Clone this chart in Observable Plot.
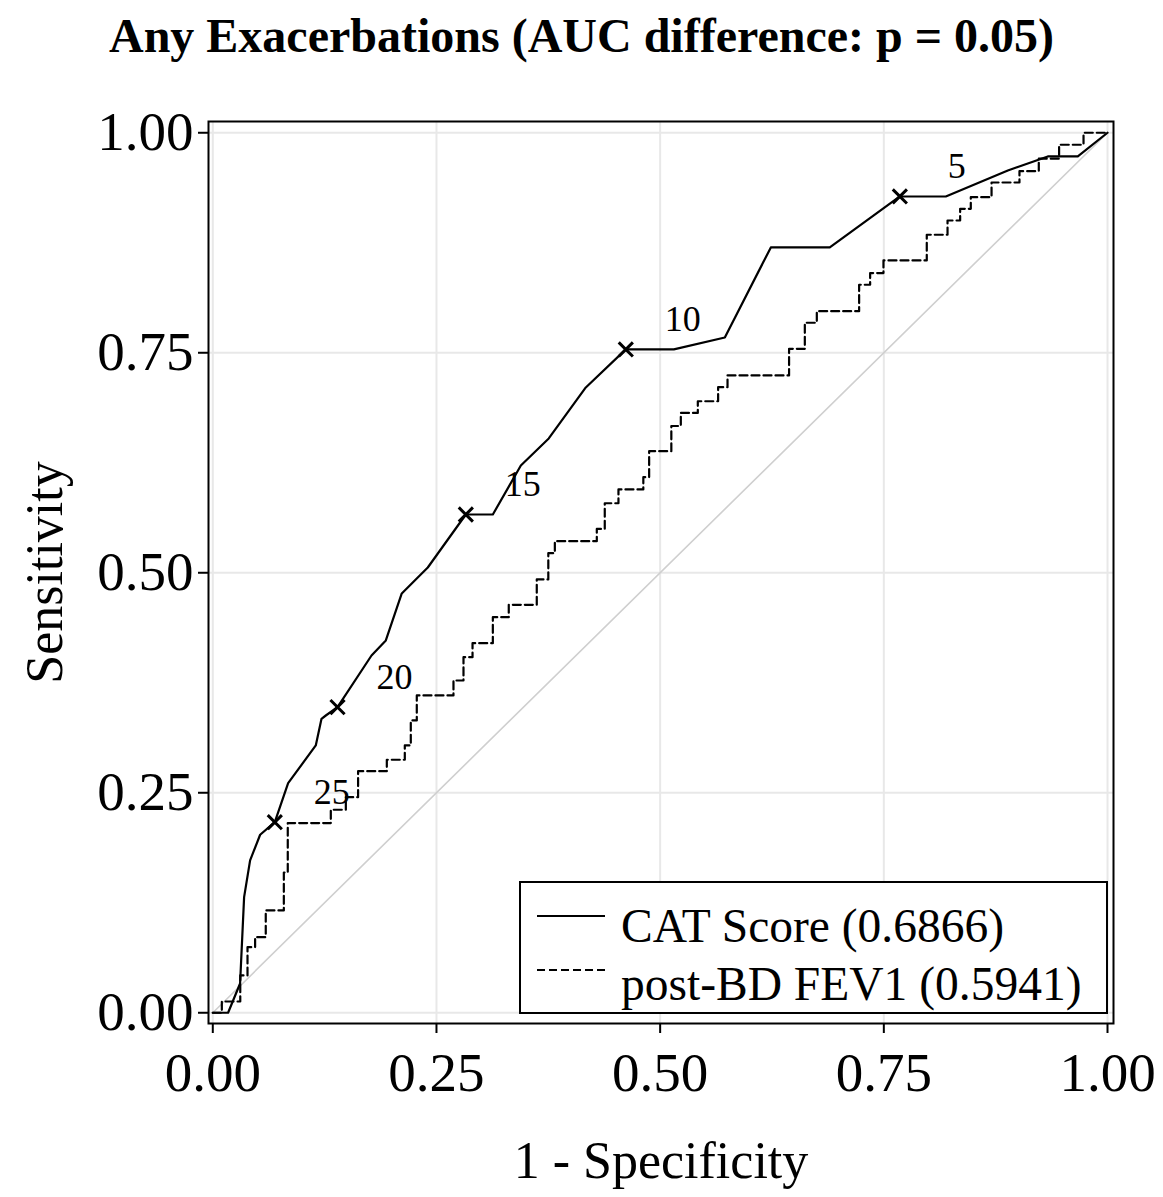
<!DOCTYPE html>
<html>
<head>
<meta charset="utf-8">
<script src="https://cdn.jsdelivr.net/npm/d3@7"></script>
<script src="https://cdn.jsdelivr.net/npm/@observablehq/plot@0.6"></script>
<style>
  html, body { margin: 0; padding: 0; background: #fff; }
  #wrap { position: relative; width: 1163px; height: 1197px; font-family: "Liberation Serif", "Times New Roman", serif; }
  #title { position: absolute; left: 0; top: 6px; width: 1163px; text-align: center;
           font-weight: bold; font-size: 48px; line-height: 60px; color: #000; }
  #chart { position: absolute; left: 0; top: 80px; }
  #legend { position: absolute; left: 519px; top: 881px; }
</style>
</head>
<body>
<div id="wrap">
  <div id="title">Any Exacerbations (AUC difference: p = 0.05)</div>
  <div id="chart"></div>
  <svg id="legend" width="592" height="136"></svg>
</div>
<script>
// ROC curve for CAT Score: (1 - specificity, sensitivity) vertices
const catFpr = [0, 0.0171, 0.0305, 0.0350, 0.0417, 0.0529, 0.0693, 0.0842, 0.1151, 0.1215, 0.1263,
  0.1394, 0.1774, 0.1934, 0.2112, 0.2403, 0.2828, 0.3130, 0.3443, 0.3755, 0.4169, 0.4616, 0.5153,
  0.5723, 0.6237, 0.6896, 0.7679, 0.8193, 0.8886, 0.9333, 0.9668, 1];
const catTpr = [0, 0, 0.0333, 0.1314, 0.1731, 0.2023, 0.2166, 0.2609, 0.3038, 0.3341, 0.3378,
  0.3473, 0.4060, 0.4231, 0.4765, 0.5060, 0.5662, 0.5662, 0.6219, 0.6526, 0.7106, 0.7538, 0.7538,
  0.7674, 0.8697, 0.8697, 0.9276, 0.9276, 0.9572, 0.9731, 0.9731, 1];

// ROC curve for post-BD FEV1 (empirical step curve)
const fevFpr = [0, 0.0101, 0.0307, 0.0388, 0.0473, 0.0592, 0.0794, 0.0838, 0.1319, 0.1487, 0.1624,
  0.1945, 0.2146, 0.2213, 0.2280, 0.2690, 0.2802, 0.2903, 0.3130, 0.3308, 0.3621, 0.3750, 0.3823,
  0.4292, 0.4381, 0.4534, 0.4812, 0.4877, 0.5125, 0.5231, 0.5421, 0.5648, 0.5753, 0.6441, 0.6617,
  0.6751, 0.7224, 0.7347, 0.7496, 0.7980, 0.8212, 0.8353, 0.8472, 0.8704, 0.9016, 0.9232, 0.9459,
  0.9732, 1];
const fevTpr = [0, 0.0128, 0.0424, 0.0745, 0.0859, 0.1163, 0.1594, 0.2155, 0.2307, 0.2450, 0.2745,
  0.2875, 0.3038, 0.3322, 0.3606, 0.3776, 0.4041, 0.4200, 0.4495, 0.4636, 0.4924, 0.5223, 0.5359,
  0.5498, 0.5790, 0.5947, 0.6086, 0.6382, 0.6668, 0.6816, 0.6949, 0.7109, 0.7242, 0.7545, 0.7841,
  0.7973, 0.8273, 0.8405, 0.8549, 0.8841, 0.9003, 0.9136, 0.9268, 0.9435, 0.9564, 0.9705, 0.9864,
  1, 1];

// CAT score cut-offs marked along the curve
const cutLabels = ["25", "20", "15", "10", "5"];
const cutFpr = [0.0693, 0.1394, 0.2828, 0.4616, 0.7679];
const cutTpr = [0.2166, 0.3473, 0.5662, 0.7538, 0.9276];

const tickValues = [0, 0.25, 0.5, 0.75, 1];

const legendLabels = ["CAT Score (0.6866)", "post-BD FEV1 (0.5941)"];

const cat = catFpr.map((x, i) => ({x, y: catTpr[i]}));
const fev = fevFpr.map((x, i) => ({x, y: fevTpr[i]}));
const cuts = cutLabels.map((label, i) => ({label, x: cutFpr[i], y: cutTpr[i]}));
const diag = [{x: 0, y: 0}, {x: 1, y: 1}];

const fmt = d3.format(".2f");
const font = "'Liberation Serif', 'Times New Roman', serif";

const chart = Plot.plot({
  width: 1163,
  height: 1117,
  marginLeft: 208,
  marginRight: 50,
  marginTop: 41,
  marginBottom: 174,
  x: {domain: [-0.0048, 1.0067]},
  y: {domain: [-0.0122, 1.0128]},
  style: {fontFamily: font, background: "white", color: "black", overflow: "visible"},
  marks: [
    Plot.gridX(tickValues, {stroke: "#e8e8e8", strokeOpacity: 1, strokeWidth: 2}),
    Plot.gridY(tickValues, {stroke: "#e8e8e8", strokeOpacity: 1, strokeWidth: 2}),
    Plot.line(diag, {x: "x", y: "y", stroke: "#cfcfcf", strokeWidth: 1.6}),
    Plot.line(fev, {x: "x", y: "y", curve: "step-after", stroke: "black", strokeWidth: 2.2, strokeDasharray: "8,4"}),
    Plot.line(cat, {x: "x", y: "y", stroke: "black", strokeWidth: 2.2}),
    Plot.dot(cuts, {x: "x", y: "y", symbol: "times", r: 6.5, stroke: "black", strokeWidth: 3}),
    Plot.text(cuts, {x: "x", y: "y", text: "label", dx: 57, dy: -30, fontSize: 36, fill: "black"}),
    Plot.axisX(tickValues, {anchor: "bottom", tickSize: 10, tickPadding: 18, fontSize: 55, tickFormat: fmt, label: null, strokeWidth: 2}),
    Plot.axisY(tickValues, {anchor: "left", tickSize: 10, tickPadding: 5, fontSize: 55, tickFormat: fmt, label: null, strokeWidth: 2}),
    Plot.frame({stroke: "black", strokeWidth: 2}),
    Plot.text(["1 - Specificity"], {frameAnchor: "bottom", dy: 154, fontSize: 52, fill: "black"}),
    Plot.text(["Sensitivity"], {frameAnchor: "left", textAnchor: "middle", dx: -163, rotate: -90, fontSize: 52, fill: "black"})
  ]
});
document.getElementById("chart").appendChild(chart);

// Legend box with line-style samples
const leg = d3.select("#legend");
leg.append("rect").attr("x", 1).attr("y", 1).attr("width", 587).attr("height", 131)
  .attr("fill", "white").attr("stroke", "black").attr("stroke-width", 2);
const rows = [
  {label: legendLabels[0], lineY: 35, textY: 61, dash: null},
  {label: legendLabels[1], lineY: 89, textY: 119, dash: "8,4"}
];
rows.forEach(r => {
  leg.append("line").attr("x1", 18).attr("x2", 86).attr("y1", r.lineY).attr("y2", r.lineY)
    .attr("stroke", "black").attr("stroke-width", 2).attr("stroke-dasharray", r.dash);
  leg.append("text").attr("x", 102).attr("y", r.textY).attr("font-family", font)
    .attr("font-size", 47.5).attr("fill", "black").text(r.label);
});
</script>
</body>
</html>
